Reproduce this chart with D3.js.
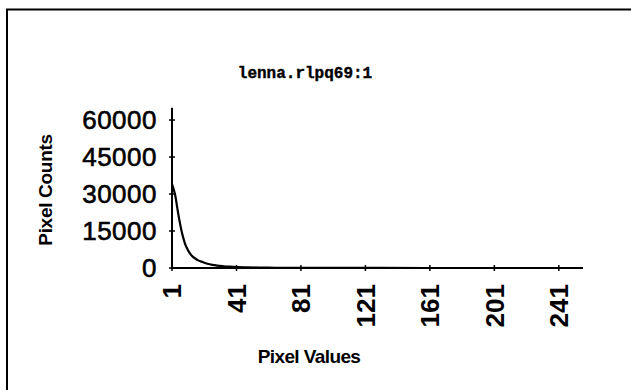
<!DOCTYPE html>
<html lang="en">
<head>
    <meta charset="UTF-8">
    <title>lenna.rlpq69:1</title>
    <script src="https://cdn.jsdelivr.net/npm/d3@7/dist/d3.min.js"></script>
    <style>
        body { margin: 0; background: #fff; }
    </style>
</head>
<body>
<svg id="chart" width="631" height="390"></svg>
<script>
    // 数据：像素值与计数
    var pixelValues = [1, 2, 3, 4, 5, 6, 7, 8, 9, 10, 12, 14, 17, 20, 23, 26, 29, 33, 37, 42, 48, 55, 65, 80, 100, 130, 160, 200, 256];
    var pixelCounts = [34000, 32000, 29500, 25500, 21500, 18000, 14800, 12200, 10000, 8400, 6000, 4500, 3200, 2400, 1700, 1250, 950, 700, 520, 380, 270, 180, 110, 60, 30, 15, 8, 4, 2];
    var xTicks = [1, 41, 81, 121, 161, 201, 241];
    var yTicks = [0, 15000, 30000, 45000, 60000];
    var title = "lenna.rlpq69:1";

    var svg = d3.select("#chart");

    // 外框（只有上边和左边）
    svg.append("line")
        .attr("x1", 6).attr("y1", 9.5).attr("x2", 631).attr("y2", 9.5)
        .attr("stroke", "#000").attr("stroke-width", 2);
    svg.append("line")
        .attr("x1", 7).attr("y1", 9).attr("x2", 7).attr("y2", 390)
        .attr("stroke", "#000").attr("stroke-width", 2);

    // 比例尺
    var x = d3.scaleLinear().domain([1, 256]).range([172, 583]);
    var y = d3.scaleLinear().domain([0, 65000]).range([268, 107.7]);

    // 标题
    svg.append("text")
        .attr("x", 305).attr("y", 78)
        .attr("text-anchor", "middle")
        .style("font-family", "'Liberation Mono', 'DejaVu Sans Mono', monospace")
        .style("font-weight", "bold")
        .style("font-size", "16px")
        .style("stroke", "#000").style("stroke-width", 0.4)
        .text(title);

    // 坐标轴线
    svg.append("line")
        .attr("x1", x(1)).attr("y1", y(0)).attr("x2", x(1)).attr("y2", y(65000))
        .attr("stroke", "#000").attr("stroke-width", 2);
    svg.append("line")
        .attr("x1", x(1)).attr("y1", y(0)).attr("x2", x(256)).attr("y2", y(0))
        .attr("stroke", "#000").attr("stroke-width", 2);

    // y 刻度
    svg.selectAll(".ytick").data(yTicks).enter().append("line")
        .attr("x1", x(1) - 3).attr("x2", x(1) + 3)
        .attr("y1", function (d) { return y(d); })
        .attr("y2", function (d) { return y(d); })
        .attr("stroke", "#000").attr("stroke-width", 1.5);
    svg.selectAll(".ylab").data(yTicks).enter().append("text")
        .attr("x", 157)
        .attr("y", function (d) { return y(d); })
        .attr("dy", "0.36em")
        .attr("text-anchor", "end")
        .style("font-family", "'Liberation Sans', Arial, sans-serif")
        .style("font-size", "26px")
        .style("letter-spacing", "0.5px")
        .style("stroke", "#000").style("stroke-width", 0.6)
        .text(function (d) { return d; });

    // x 刻度
    svg.selectAll(".xtick").data(xTicks).enter().append("line")
        .attr("x1", function (d) { return x(d); })
        .attr("x2", function (d) { return x(d); })
        .attr("y1", y(0) - 3).attr("y2", y(0) + 3)
        .attr("stroke", "#000").attr("stroke-width", 1.5);
    svg.selectAll(".xlab").data(xTicks).enter().append("text")
        .attr("transform", function (d) { return "translate(" + x(d) + ",284) rotate(-90)"; })
        .attr("dy", "0.36em")
        .attr("text-anchor", "end")
        .style("font-family", "'Liberation Sans', Arial, sans-serif")
        .style("font-weight", "bold")
        .style("font-size", "26px")
        .text(function (d) { return d; });

    // 轴标题
    svg.append("text")
        .attr("transform", "translate(52,190) rotate(-90)")
        .attr("text-anchor", "middle")
        .style("font-family", "'Liberation Sans', Arial, sans-serif")
        .style("font-weight", "bold")
        .style("font-size", "19px")
        .style("letter-spacing", "-0.3px")
        .text("Pixel Counts");
    svg.append("text")
        .attr("x", 309).attr("y", 363)
        .attr("text-anchor", "middle")
        .style("font-family", "'Liberation Sans', Arial, sans-serif")
        .style("font-weight", "bold")
        .style("font-size", "19px")
        .style("letter-spacing", "-0.6px")
        .text("Pixel Values");

    // 曲线
    var points = pixelValues.map(function (v, i) { return [v, pixelCounts[i]]; });
    var line = d3.line()
        .x(function (d) { return x(d[0]); })
        .y(function (d) { return y(d[1]); })
        .curve(d3.curveMonotoneX);
    svg.append("path")
        .datum(points)
        .attr("d", line)
        .attr("fill", "none")
        .attr("stroke", "#000")
        .attr("stroke-width", 2.2);
</script>
</body>
</html>
